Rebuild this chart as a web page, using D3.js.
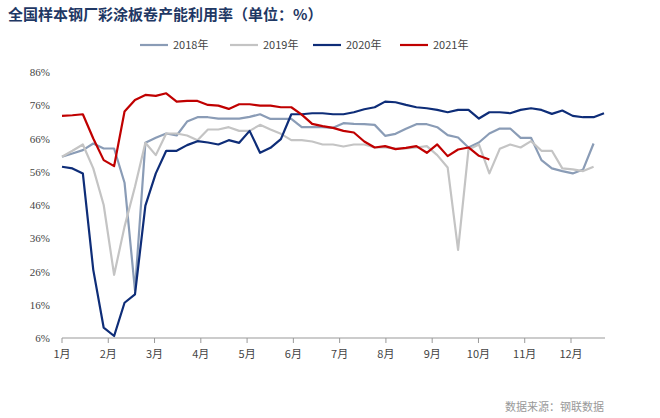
<!DOCTYPE html>
<html><head><meta charset="utf-8">
<script src="https://cdn.jsdelivr.net/npm/d3@7"></script>
<style>body{margin:0;background:#fff;font-family:"Noto Sans CJK SC","DejaVu Sans",sans-serif}</style>
</head><body><div id="chart"></div>
<script>
const width = 660, height = 418;
const months = ["1月","2月","3月","4月","5月","6月","7月","8月","9月","10月","11月","12月"];
const yTicks = [6,16,26,36,46,56,66,76,86];
// weekly values, week 0 = early January
const s2018 = [60.5,61.5,62.5,64.5,63,63,52.7,20.4,64.7,66.2,67.5,66.9,71.1,72.4,72.4,72,72,72,72.5,73.3,71.9,71.9,71.9,69.4,69.4,69.4,69.2,70.6,70.4,70.3,70.1,66.8,67.4,68.9,70.3,70.3,69.4,67,66.3,63.3,64.8,67.5,69,69,66.2,66.2,59.5,57,56.2,55.5,56.7,64.5];
const s2019 = [60.5,62.3,64.2,57,46,25,39.5,51.5,64.7,61,67.5,67.5,66.9,65.5,68.7,68.7,69.4,68.3,68.3,70.1,68.7,67.4,65.5,65.5,65.1,64.2,64.2,63.6,64.2,64.2,63.3,63.3,63,63,63.3,63.7,61,57.3,32.5,62.7,64.2,55.5,62.9,64.2,63.3,65.2,62.3,62.3,57,56.7,56.2,57.5];
const s2020 = [57.5,57,55.5,26.5,9.1,6.6,16.6,19.1,45.8,55.5,62.3,62.3,64,65.2,64.8,64.2,65.5,64.7,68.3,61.7,63.2,65.8,73.3,73.3,73.6,73.6,73.3,73.3,73.9,74.8,75.4,77.1,76.9,76.1,75.4,75.1,74.6,73.9,74.6,74.6,72,73.9,73.9,73.6,74.6,75.1,74.6,73.4,74.4,72.8,72.4,72.4,73.6];
const s2021 = [72.8,73,73.3,66,59.5,57.7,74.1,77.6,79.1,78.8,79.6,77.1,77.3,77.3,76.1,75.9,74.9,76.3,76.3,75.9,75.9,75.4,75.4,73.2,70.4,69.7,69.2,68.3,67.8,65.1,63.3,63.7,62.8,63.2,63.7,61.7,64.2,60.7,62.7,63.3,60.8,59.7];
const series = [
  {name:"2018年", data:s2018, color:"#8a9cb6"},
  {name:"2019年", data:s2019, color:"#c4c4c4"},
  {name:"2020年", data:s2020, color:"#0e2d78"},
  {name:"2021年", data:s2021, color:"#c00000"}
];

const svg = d3.select("#chart").append("svg").attr("width", width).attr("height", height);
const x = d3.scaleLinear().domain([0, 52]).range([62, 604]);
const xm = d3.scaleLinear().domain([0, 11]).range([62, 571]);
const y = d3.scaleLinear().domain([6, 86]).range([338, 72]);

svg.append("text").attr("x", 8).attr("y", 20).attr("fill", "#1f3864")
  .attr("font-size", 15).attr("font-weight", "bold").text("全国样本钢厂彩涂板卷产能利用率（单位：%）");

// y labels
svg.selectAll(".yl").data(yTicks).enter().append("text")
  .attr("x", 50).attr("y", d => y(d) + 4).attr("text-anchor", "end")
  .attr("font-size", 11).attr("fill", "#444").attr("font-family", "Liberation Serif, serif")
  .text(d => d + "%");

// x axis
svg.append("line").attr("x1", 62).attr("x2", 605).attr("y1", 338).attr("y2", 338).attr("stroke", "#999");
svg.selectAll(".xt").data(months).enter().append("line")
  .attr("x1", (d, i) => xm(i)).attr("x2", (d, i) => xm(i)).attr("y1", 338).attr("y2", 343).attr("stroke", "#999");
svg.selectAll(".xl").data(months).enter().append("text")
  .attr("x", (d, i) => xm(i)).attr("y", 358).attr("text-anchor", "middle")
  .attr("font-size", 11).attr("fill", "#444").text(d => d);

const line = d3.line().x((d, i) => x(i)).y(d => y(d));
series.forEach(s => {
  svg.append("path").attr("d", line(s.data)).attr("fill", "none")
    .attr("stroke", s.color).attr("stroke-width", 2.2).attr("stroke-linejoin", "round");
});

// legend
const legX = [140, 230, 313, 400];
series.forEach((s, i) => {
  svg.append("line").attr("x1", legX[i]).attr("x2", legX[i] + 28).attr("y1", 45).attr("y2", 45)
    .attr("stroke", s.color).attr("stroke-width", 2.2);
  svg.append("text").attr("x", legX[i] + 33).attr("y", 49).attr("font-size", 11).attr("fill", "#444").text(s.name);
});

svg.append("text").attr("x", 505).attr("y", 411).attr("font-size", 11).attr("fill", "#999").text("数据来源：钢联数据");
</script></body></html>
